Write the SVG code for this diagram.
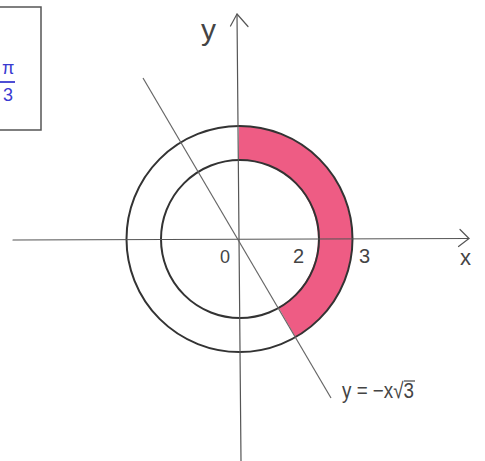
<svg xmlns="http://www.w3.org/2000/svg" width="485" height="461" viewBox="0 0 485 461">
<style>
.circ{fill:none;stroke:#333;stroke-width:2}
.axis{fill:none;stroke:#555;stroke-width:1.2;stroke-linecap:round;stroke-linejoin:round}
.thin{fill:none;stroke:#666;stroke-width:1.2}
.lbl{font-family:"Liberation Sans",Arial,sans-serif;fill:#444}
.blue{font-family:"Liberation Sans",Arial,sans-serif;fill:#3a3ad0}
</style>
<rect width="485" height="461" fill="#fff"/>
<g id="box">
<rect x="-5" y="7" width="46" height="123" fill="none" stroke="#555" stroke-width="1.5"/>
<text class="blue" x="2" y="74" font-size="18">π</text>
<line x1="0" y1="82" x2="15" y2="82" stroke="#3a3ad0" stroke-width="1.8"/>
<text class="blue" x="3" y="101" font-size="18">3</text>
</g>
<g id="shaded-region">
<path d="M239 126 A113 113 0 0 1 295.5 336.9 L278.5 307.4 A79 79 0 0 0 239 160 Z" fill="#ee5c84" stroke="none"/>
</g>
<g id="outer-circle"><circle class="circ" cx="239.5" cy="239" r="113"/></g>
<g id="inner-circle"><circle class="circ" cx="240" cy="239" r="79"/></g>
<g id="connectors">
<line class="axis" x1="13" y1="240" x2="469" y2="238.5"/>
<polyline class="axis" points="460,229.5 469,238.5 458.5,246.5"/>
<line class="axis" x1="237" y1="14" x2="241" y2="461"/>
<polyline class="axis" points="230.5,26 237,14 248,26.5"/>
<line class="thin" x1="143" y1="78" x2="331" y2="398"/>
</g>
<g id="label-y"><text class="lbl" x="201" y="40" font-size="30">y</text></g>
<g id="label-x"><text class="lbl" x="460" y="265" font-size="22">x</text></g>
<g id="label-0"><text class="lbl" x="220" y="263" font-size="18">0</text></g>
<g id="label-2"><text class="lbl" x="293" y="263" font-size="20">2</text></g>
<g id="label-3"><text class="lbl" x="359" y="263" font-size="20">3</text></g>
<g id="label-line">
<text class="lbl" x="342" y="398" font-size="22" textLength="72" lengthAdjust="spacingAndGlyphs">y = −x√3</text>
<line x1="404" y1="381" x2="415" y2="381" stroke="#444" stroke-width="1.2"/>
</g>
</svg>
